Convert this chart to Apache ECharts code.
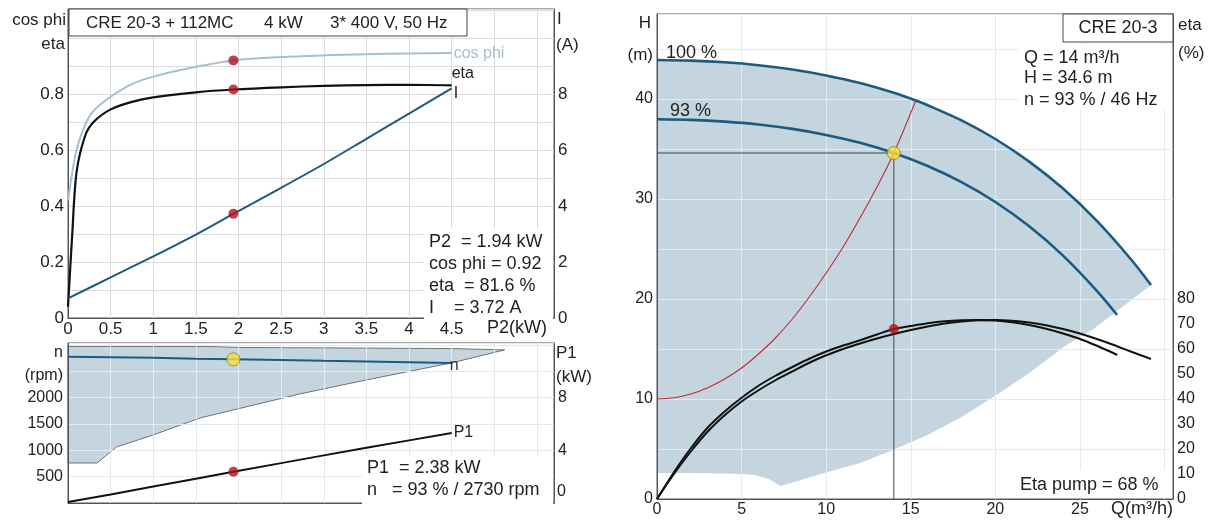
<!DOCTYPE html>
<html><head><meta charset="utf-8">
<script src="https://cdn.jsdelivr.net/npm/echarts@6/dist/echarts.min.js"></script>
<style>html,body{margin:0;padding:0;background:#fff}#c{width:1210px;height:521px}</style>
</head><body><div id="c"></div>
<script>
const FONT = '"Liberation Sans", Arial, sans-serif';
// ---------- top-left: motor data vs P2 ----------
const p2 = [0, 0.05, 0.1, 0.2, 0.3, 0.5, 0.75, 1, 1.5, 1.94, 2.5, 3, 3.5, 4, 4.5];
const cosPhi = [0.42, 0.52, 0.6, 0.69, 0.74, 0.79, 0.835, 0.862, 0.897, 0.92, 0.932, 0.938, 0.942, 0.945, 0.946];
const etaMotor = [0.04, 0.3, 0.52, 0.65, 0.7, 0.745, 0.772, 0.788, 0.806, 0.816, 0.824, 0.829, 0.832, 0.833, 0.831];
const iP2 = [0, 0.5, 1, 1.5, 1.94, 2.5, 3, 3.5, 4, 4.5];
const currentA = [0.7, 1.45, 2.2, 2.98, 3.72, 4.65, 5.5, 6.4, 7.3, 8.2];
const dutyP2 = 1.94, dutyCos = 0.92, dutyEta = 0.816, dutyI = 3.72;
// ---------- bottom-left: speed and P1 ----------
const nP2 = [0, 0.5, 1, 1.5, 1.94, 2.5, 3, 3.5, 4, 4.5];
const speedRpm = [2780, 2770, 2758, 2742, 2730, 2716, 2702, 2690, 2676, 2662];
const p1kW = [0.08, 0.65, 1.25, 1.85, 2.38, 3.03, 3.62, 4.2, 4.76, 5.32];
const dutyRpm = 2730, dutyP1 = 2.38;
const nAreaTopP2 = [0, 1.7, 2.0, 3.0, 4.5, 5.12];
const nAreaTopRpm = [2975, 2972, 2955, 2948, 2935, 2909];
const nAreaLowP2 = [0, 0.34, 0.57, 1.0, 1.55, 1.94, 2.72, 3.5, 4.5, 5.12];
const nAreaLowRpm = [760, 760, 1065, 1293, 1616, 1768, 2072, 2338, 2662, 2909];
// ---------- right: pump curves ----------
const q100 = [0, 2, 4, 6, 8, 10, 12, 14, 15.3, 16, 18, 20, 22, 24, 26, 28, 29.2];
const h100 = [43.9, 43.84, 43.67, 43.38, 42.95, 42.36, 41.6, 40.62, 39.85, 39.38, 37.86, 36.0, 33.74, 31.04, 27.81, 24.0, 21.4];
const q93 = [0, 2, 4, 6, 8, 10, 12, 14, 16, 18, 20, 22, 24, 26, 27.2];
const h93 = [37.97, 37.91, 37.74, 37.45, 37.01, 36.41, 35.62, 34.6, 33.3, 31.69, 29.7, 27.27, 24.34, 20.82, 18.4];
const qSys = [0, 1, 2, 3, 4, 5, 6, 7, 8, 9, 10, 11, 12, 13, 14, 15.3];
const hSys = [10, 10.13, 10.5, 11.13, 12.0, 13.1, 14.5, 16.1, 18.0, 20.2, 22.6, 25.2, 28.1, 31.2, 34.6, 39.85];
const qEta100 = [0,1,2,3,4,5,6,7,8,9,10,11,12,13,14,15,16,17,18,19,20,21,22,23,24,25,26,27,28,29.2];
const eta100 = [0,10,19,27,33.5,39,43.5,47.5,51,54.5,57.5,60,62.2,64.2,66,67.6,69,70.2,71,71.5,71.6,71.3,70.6,69.5,68,66.2,64,61.6,59,56];
const qEta93 = [0,1,2,3,4,5,6,7,8,9,10,11,12,13,14,15,16,17,18,19,20,21,22,23,24,25,26,27,27.2];
const eta93 = [0,10.7,20.3,28.6,35,40.5,45.3,49.3,52.8,56.1,59,61.4,63.5,65.8,68,69.2,70.3,71.1,71.5,71.6,71.4,70.7,69.6,68.1,66.2,64,61.3,58.3,57.6];
const shadeLowQ = [0, 2, 4, 5, 5.8, 6.6, 7.3, 8.5, 9.9, 12, 13.8, 16, 18, 19.8, 22, 24.2, 25.8, 29.2];
const shadeLowH = [2.6, 2.6, 2.55, 2.5, 2.4, 2.0, 1.3, 1.9, 2.6, 3.6, 4.8, 6.4, 8.2, 10.1, 12.6, 15.4, 17.0, 21.4];
const dutyQ = 14, dutyH = 34.6, dutyEtaPump = 68;

const zip = (a, b) => a.map((v, i) => [v, b[i]]);
const SHADE = '#c5d5df', GRID_PLAIN = '#dcdcdc', GRID_SHADED = '#e4eaee', AXC = '#555', TXT = '#222';
const DARKBLUE = '#1d5a80', RED = '#b3121b';

const chart = echarts.init(document.getElementById('c'), null, {renderer: 'canvas'});
const near = (v, s) => Math.abs(v / s - Math.round(v / s)) < 1e-6;
function xAx(g, max, step, maxLab, fs, gc) {
  return {type: 'value', gridIndex: g, min: 0, max: max, interval: step, zlevel: 1, z: 3,
    axisLine: {show: true, onZero: false, lineStyle: {color: AXC, width: 1}},
    axisTick: {show: false},
    axisLabel: {show: maxLab > 0, margin: 3, fontFamily: FONT, fontSize: fs, color: TXT,
      formatter: v => (v <= maxLab + 1e-9 && near(v, step)) ? String(+v.toFixed(1)) : ''},
    splitLine: {show: true, lineStyle: {color: gc, width: 1}}};
}
function yAx(g, max, interval, pos, fmt, gc, margin, fs) {
  return {type: 'value', gridIndex: g, min: 0, max: max, interval: interval, position: pos, zlevel: 1, z: 3,
    axisLine: {show: true, onZero: false, lineStyle: {color: AXC, width: 1}},
    axisTick: {show: false},
    axisLabel: {margin: margin, formatter: fmt, fontFamily: FONT, fontSize: fs, color: TXT},
    splitLine: {show: !!gc, lineStyle: {color: gc || '#fff', width: 1}}};
}
function polySeries(xi, yi, xs1, ys1, xs2, ys2, style) {
  return {type: 'custom', xAxisIndex: xi, yAxisIndex: yi, zlevel: 0, z: 1, silent: true, data: [[0, 0]],
    renderItem: function (params, api) {
      const pts = [];
      for (let i = 0; i < xs1.length; i++) pts.push(api.coord([xs1[i], ys1[i]]));
      for (let i = xs2.length - 1; i >= 0; i--) pts.push(api.coord([xs2[i], ys2[i]]));
      return {type: 'polygon', shape: {points: pts}, style: style};
    }};
}
const txt = (x, y, t, align, fs, color) => ({type: 'text', x: x, y: y, z: 100, zlevel: 1,
  style: {text: t, font: (fs || 18) + 'px ' + FONT, fill: color || TXT, textAlign: align || 'left', textVerticalAlign: 'middle'}});
const rect = (x, y, w, h, stroke) => ({type: 'rect', z: 99, zlevel: 1, shape: {x: x, y: y, width: w, height: h},
  style: {fill: '#fff', stroke: stroke ? '#444' : null, lineWidth: 1}});
const L = (extra) => Object.assign({type: 'line', symbol: 'none', zlevel: 1, z: 5}, extra);
const S = (extra) => Object.assign({type: 'scatter', zlevel: 1, z: 7}, extra);

const option = {
  animation: false,
  grid: [
    {left: 68, top: 9, width: 486, height: 309, show: true, borderColor: AXC, borderWidth: 1, zlevel: 1, z: 3, outerBoundsMode: 'none'},
    {left: 68, top: 343, width: 486, height: 160, show: true, borderColor: AXC, borderWidth: 1, zlevel: 1, z: 3, outerBoundsMode: 'none'},
    {left: 657, top: 14, width: 516, height: 485, show: true, borderColor: AXC, borderWidth: 1, zlevel: 1, z: 3, outerBoundsMode: 'none'}
  ],
  xAxis: [xAx(0, 5.7, 0.5, 4.5, 17, GRID_PLAIN), xAx(1, 5.7, 0.5, 0, 16, GRID_SHADED), xAx(2, 30.5, 5, 25, 16, GRID_SHADED)],
  yAxis: [
    yAx(0, 309 / 280, 0.1, 'left', v => (near(v, 0.2) && v < 0.85) ? (v < 0.01 ? '0' : v.toFixed(1)) : '', GRID_PLAIN, 4, 17),
    yAx(0, 309 / 28, 2, 'right', v => (near(v, 2) && v < 8.5) ? String(Math.round(v)) : '', null, 4, 17),
    yAx(1, 3040, 500, 'left', v => (near(v, 500) && v > 1 && v < 2100) ? String(Math.round(v)) : '', GRID_SHADED, 5, 16),
    yAx(1, 12.16, 4, 'right', v => (near(v, 4) && v > 1 && v < 8.5) ? String(Math.round(v)) : '', null, 4, 16),
    yAx(2, 48.5, 5, 'left', v => (near(v, 10) && v < 41) ? String(Math.round(v)) : '', GRID_SHADED, 4, 16),
    yAx(2, 194, 10, 'right', v => (near(v, 10) && v < 81) ? String(Math.round(v)) : '', null, 4, 16)
  ],
  series: [
    // top-left
    L({xAxisIndex: 0, yAxisIndex: 0, data: zip(p2, cosPhi), smooth: 0.3, lineStyle: {color: '#a7bfcf', width: 2},
      endLabel: {show: true, formatter: 'cos phi', color: '#a7bfcf', fontFamily: FONT, fontSize: 16, distance: 2}}),
    L({xAxisIndex: 0, yAxisIndex: 0, data: zip(p2, etaMotor), smooth: 0.3, lineStyle: {color: '#111', width: 2.2},
      endLabel: {show: true, formatter: 'eta', color: TXT, fontFamily: FONT, fontSize: 16, distance: 0, offset: [0, -12]}}),
    L({xAxisIndex: 0, yAxisIndex: 1, data: zip(iP2, currentA), smooth: 0.3, lineStyle: {color: DARKBLUE, width: 2},
      endLabel: {show: true, formatter: 'I', color: TXT, fontFamily: FONT, fontSize: 16, distance: 2, offset: [0, 5]}}),
    S({xAxisIndex: 0, yAxisIndex: 0, data: [[dutyP2, dutyCos], [dutyP2, dutyEta]], symbolSize: 10, itemStyle: {color: RED}}),
    S({xAxisIndex: 0, yAxisIndex: 1, data: [[dutyP2, dutyI]], symbolSize: 10, itemStyle: {color: RED}}),
    // bottom-left
    polySeries(1, 2, nAreaTopP2, nAreaTopRpm, nAreaLowP2, nAreaLowRpm, {fill: SHADE, stroke: '#555', lineWidth: 0.8}),
    L({xAxisIndex: 1, yAxisIndex: 2, data: zip(nP2, speedRpm), lineStyle: {color: DARKBLUE, width: 2},
      endLabel: {show: true, formatter: 'n', color: '#333', fontFamily: FONT, fontSize: 16, distance: 0, offset: [-2, 3]}}),
    L({xAxisIndex: 1, yAxisIndex: 3, data: zip(nP2, p1kW), lineStyle: {color: '#111', width: 2},
      endLabel: {show: true, formatter: 'P1', color: TXT, fontFamily: FONT, fontSize: 16, distance: 2}}),
    S({xAxisIndex: 1, yAxisIndex: 2, data: [[dutyP2, dutyRpm]], symbolSize: 13,
      itemStyle: {color: '#f6e13c', borderColor: '#a07a10', borderWidth: 1}}),
    S({xAxisIndex: 1, yAxisIndex: 3, data: [[dutyP2, dutyP1]], symbolSize: 10, itemStyle: {color: RED}}),
    // right
    polySeries(2, 4, q100, h100, shadeLowQ, shadeLowH, {fill: SHADE}),
    L({xAxisIndex: 2, yAxisIndex: 4, data: zip(q100, h100), smooth: 0.3, lineStyle: {color: DARKBLUE, width: 2.6}}),
    L({xAxisIndex: 2, yAxisIndex: 4, data: zip(q93, h93), smooth: 0.3, lineStyle: {color: DARKBLUE, width: 2.6}}),
    L({xAxisIndex: 2, yAxisIndex: 4, data: zip(qSys, hSys), smooth: 0.3, lineStyle: {color: '#c02a35', width: 1.1}}),
    L({xAxisIndex: 2, yAxisIndex: 4, data: [[0, dutyH], [dutyQ, dutyH], [dutyQ, 0]], lineStyle: {color: '#444', width: 1}, z: 4}),
    L({xAxisIndex: 2, yAxisIndex: 5, data: zip(qEta100, eta100), smooth: 0.3, lineStyle: {color: '#111', width: 2}}),
    L({xAxisIndex: 2, yAxisIndex: 5, data: zip(qEta93, eta93), smooth: 0.3, lineStyle: {color: '#111', width: 2}}),
    S({xAxisIndex: 2, yAxisIndex: 4, data: [[dutyQ, dutyH]], symbolSize: 13,
      itemStyle: {color: '#f6e13c', borderColor: '#a07a10', borderWidth: 1}}),
    S({xAxisIndex: 2, yAxisIndex: 5, data: [[dutyQ, dutyEtaPump]], symbolSize: 10, itemStyle: {color: RED}})
  ],
  graphic: [
    // top-left
    rect(69, 9, 398, 27, true),
    txt(86, 23, 'CRE 20-3 + 112MC', 'left', 17),
    txt(264, 23, '4 kW', 'left', 17),
    txt(330, 23, '3* 400 V, 50 Hz', 'left', 17),
    txt(66, 20, 'cos phi', 'right', 17),
    txt(65, 44, 'eta', 'right', 17),
    txt(557, 19, 'I', 'left', 17),
    txt(556, 45, '(A)', 'left', 17),
    txt(517, 328, 'P2(kW)', 'center', 18),
    rect(424, 228, 129, 92, false),
    txt(429, 242, 'P2  = 1.94 kW'),
    txt(429, 264, 'cos phi = 0.92'),
    txt(429, 286, 'eta  = 81.6 %'),
    txt(429, 308, 'I    = 3.72 A'),
    // bottom-left
    txt(63, 353, 'n', 'right', 16),
    txt(63, 376, '(rpm)', 'right', 16),
    txt(556, 353, 'P1', 'left', 17),
    txt(556, 377, '(kW)', 'left', 17),
    txt(557, 492, '0', 'left', 16),
    rect(362, 456, 191, 48, false),
    txt(367, 468, 'P1  = 2.38 kW'),
    txt(367, 490, 'n   = 93 % / 2730 rpm'),
    // right
    txt(651, 23, 'H', 'right', 17),
    txt(653, 55, '(m)', 'right', 17),
    txt(1178, 25, 'eta', 'left', 17),
    txt(1178, 53, '(%)', 'left', 17),
    rect(1063, 14, 110, 28, true),
    txt(1118, 28, 'CRE 20-3', 'center'),
    rect(1018, 44, 153, 66, false),
    txt(1024, 58, 'Q = 14 m³/h'),
    txt(1024, 78, 'H = 34.6 m'),
    txt(1024, 100, 'n = 93 % / 46 Hz'),
    rect(1014, 470, 157, 28, false),
    txt(1020, 485, 'Eta pump = 68 %'),
    txt(1142, 509, 'Q(m³/h)', 'center'),
    txt(666, 53, '100 %'),
    txt(670, 111, '93 %')
  ]
};
chart.setOption(option);
</script>
</body></html>
